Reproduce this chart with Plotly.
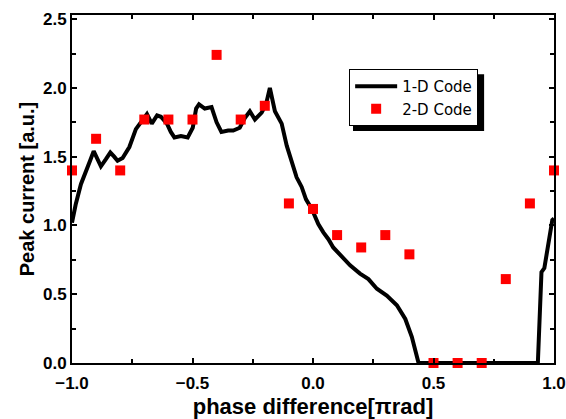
import plotly.graph_objects as go

# 1-D Code curve
line_x = [-1.0, -0.985, -0.963, -0.943, -0.925, -0.910, -0.895, -0.880, -0.860, -0.841, -0.825, -0.811,
          -0.790, -0.762, -0.735, -0.707, -0.689, -0.669, -0.647, -0.631, -0.606, -0.590, -0.575,
          -0.548, -0.520, -0.499, -0.485, -0.473, -0.449, -0.421, -0.400, -0.380, -0.352, -0.331,
          -0.304, -0.283, -0.262, -0.241, -0.213, -0.195, -0.179, -0.158, -0.130, -0.109, -0.089,
          -0.068, -0.047, -0.029, -0.005, 0.022, 0.043, 0.064, 0.084, 0.119, 0.154, 0.195, 0.230,
          0.265, 0.306, 0.348, 0.383, 0.410, 0.428, 0.438, 0.933, 0.948, 0.960, 0.993, 1.0]
line_y = [1.02, 1.15, 1.30, 1.40, 1.47, 1.54, 1.48, 1.43, 1.48, 1.53, 1.50, 1.47,
          1.49, 1.57, 1.70, 1.77, 1.81, 1.74, 1.80, 1.79, 1.74, 1.68, 1.64,
          1.65, 1.64, 1.71, 1.85, 1.88, 1.85, 1.86, 1.75, 1.68, 1.69, 1.69,
          1.71, 1.78, 1.83, 1.77, 1.82, 1.88, 2.00, 1.83, 1.74, 1.58, 1.47,
          1.35, 1.28, 1.19, 1.12, 1.01, 0.95, 0.90, 0.84, 0.78, 0.71, 0.65, 0.61,
          0.54, 0.49, 0.42, 0.32, 0.19, 0.05, 0.0, 0.0, 0.66, 0.69, 1.04, 1.05]

# 2-D Code points
pts_x = [-1.0, -0.9, -0.8, -0.7, -0.6, -0.5, -0.4, -0.3, -0.2, -0.1, 0.0,
         0.1, 0.2, 0.3, 0.4, 0.5, 0.6, 0.7, 0.8, 0.9, 1.0]
pts_y = [1.40, 1.63, 1.40, 1.77, 1.77, 1.77, 2.24, 1.77, 1.87, 1.16, 1.12,
         0.93, 0.84, 0.93, 0.79, 0.0, 0.0, 0.0, 0.61, 1.16, 1.40]

x_ticks = [-1.0, -0.5, 0.0, 0.5, 1.0]
x_labels = ["\u22121.0", "\u22120.5", "0.0", "0.5", "1.0"]
y_ticks = [0.0, 0.5, 1.0, 1.5, 2.0, 2.5]
y_labels = ["0.0", "0.5", "1.0", "1.5", "2.0", "2.5"]

fig = go.Figure()
fig.add_trace(go.Scatter(x=line_x, y=line_y, mode="lines", name="1-D Code",
                         line=dict(color="black", width=4), cliponaxis=True))
fig.add_trace(go.Scatter(x=pts_x, y=pts_y, mode="markers", name="2-D Code",
                         marker=dict(symbol="square", color="#ff0000", size=10,
                                     line=dict(width=0)), cliponaxis=False))

tickfont = dict(family="Liberation Sans, Arial", size=17, color="black")
axis_common = dict(showline=True, linecolor="black", linewidth=2, mirror="allticks",
                   ticks="inside", ticklen=5, tickwidth=1.5, tickcolor="black",
                   showgrid=False, zeroline=False, tickfont=tickfont, automargin=False)

fig.update_layout(
    width=566, height=419,
    margin=dict(l=72, r=12, t=15, b=56),
    paper_bgcolor="white", plot_bgcolor="white",
    font=dict(family="Liberation Sans, Arial", color="black"),
    showlegend=True,
    legend=dict(x=0.575, y=0.845, xanchor="left", yanchor="top",
                bgcolor="white", bordercolor="black", borderwidth=1,
                font=dict(family="DejaVu Sans", size=15, color="black"),
                itemwidth=42, tracegroupgap=0),
    shapes=[dict(type="rect", xref="paper", yref="paper",
                 x0=0.583, x1=0.855, y0=0.667, y1=0.830,
                 fillcolor="black", line=dict(width=0), layer="above")],
)
fig.update_xaxes(range=[-1.0, 1.0], tickvals=x_ticks, ticktext=[f"<b>{t}</b>" for t in x_labels],
                 ticklabelstandoff=4,
                 minor=dict(ticks="inside", ticklen=4, tickwidth=1.5, tickcolor="black", dtick=0.25, tick0=-1),
                 title=dict(text="<b>phase difference[\u03c0rad]</b>",
                            font=dict(family="Liberation Sans, Arial", size=22, color="black"), standoff=17),
                 **axis_common)
fig.update_yaxes(range=[0.0, 2.53], tickvals=y_ticks, ticktext=[f"<b>{t}</b>" for t in y_labels],
                 minor=dict(ticks="inside", ticklen=4, tickwidth=1.5, tickcolor="black", dtick=0.25, tick0=0),
                 title=dict(text="<b>Peak current [a.u.]</b>",
                            font=dict(family="Liberation Sans, Arial", size=20, color="black"), standoff=3),
                 **axis_common)

fig.write_html("out.html", config={"displayModeBar": False},
               post_script="document.body.style.margin='0';document.body.style.overflow='hidden';")
